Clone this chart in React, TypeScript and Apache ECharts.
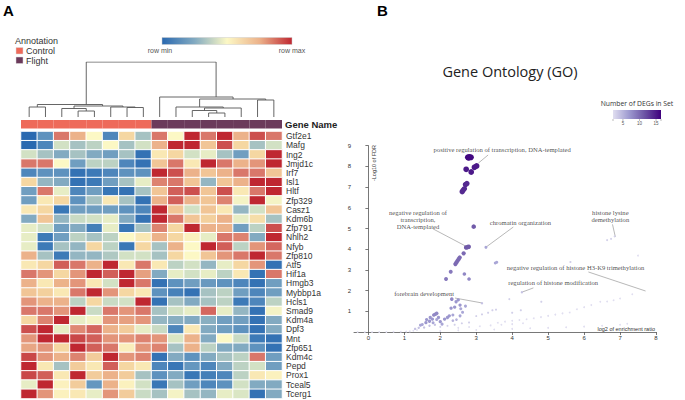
import React, { useEffect, useRef } from 'react';
import * as echarts from 'echarts';

// ---------- Panel A data ----------
const sampleColumns = ['C1', 'C2', 'C3', 'C4', 'C5', 'C6', 'C7', 'C8', 'F1', 'F2', 'F3', 'F4', 'F5', 'F6', 'F7', 'F8'];
const sampleGroups = [0, 0, 0, 0, 0, 0, 0, 0, 1, 1, 1, 1, 1, 1, 1, 1];
const groupNames = ['Control', 'Flight'];
const groupColors = ['#ee6a5a', '#6b3a5b'];

const genes = [
  'Gtf2e1', 'Mafg', 'Ing2', 'Jmjd1c', 'Irf7', 'Isl1', 'Hltf', 'Zfp329', 'Casz1', 'Kdm6b',
  'Zfp791', 'Nhlh2', 'Nfyb', 'Zfp810', 'Atf5', 'Hif1a', 'Hmgb3', 'Mybbp1a', 'Hcls1', 'Smad9',
  'Kdm4a', 'Dpf3', 'Mnt', 'Zfp651', 'Kdm4c', 'Pepd', 'Prox1', 'Tceal5', 'Tcerg1',
];

// relative expression, 0 = row min ... 10 = row max
const heatValues = [
  [0, 2, 9, 8, 6, 1.5, 7, 4, 9, 6, 10, 9, 10, 8, 9.5, 9],
  [0, 1.5, 5, 4, 4.5, 6, 4, 5, 8, 10, 10, 7.5, 9.5, 7, 4, 5],
  [5, 4, 3, 4, 3, 2.5, 4, 0.5, 6.5, 7, 5, 5.5, 4, 2.5, 7, 10],
  [9, 9, 6, 2.5, 4.5, 4.5, 1.5, 0.5, 7.5, 9, 6.5, 10, 9, 8, 8.5, 10],
  [1.5, 2, 2, 0.5, 1, 1.5, 2, 2, 10, 9.5, 8, 7.5, 8, 9, 9, 7.5],
  [7, 3.5, 3, 0.5, 1, 2.5, 4, 5.5, 8.8, 9, 7.5, 3.5, 7.5, 8, 10, 10],
  [2.5, 9, 5.5, 1.5, 2.5, 0.8, 0.5, 4, 7.5, 9.3, 9.5, 7.5, 9.5, 6.5, 9, 10],
  [2.5, 6.5, 7, 2, 4, 6.5, 4, 0.5, 8, 9.3, 8, 7.5, 8.8, 5.8, 10, 5.8],
  [6.5, 7, 0.8, 2.5, 2.5, 2.5, 2, 1.5, 10, 7.5, 5, 7.5, 6.5, 3.5, 5, 7.5],
  [3, 7.5, 3.5, 4.8, 5, 5.5, 3, 0.5, 10, 9, 7.5, 7.2, 8, 5.5, 6.8, 4],
  [5.5, 5, 2.5, 3, 1.2, 5.5, 0.8, 4, 8.8, 7, 10, 8, 8, 2.5, 4.5, 9.5],
  [5.5, 1, 2.5, 4.5, 4, 4.5, 6, 6.5, 8, 7, 6.2, 5.5, 9, 8.8, 3, 10],
  [5.5, 1, 4, 3.5, 7, 4.5, 0.8, 7, 4, 8, 6, 10, 9.3, 4.5, 8.5, 9.2],
  [8, 4, 1, 3.5, 3.5, 4.2, 5, 5, 4, 7, 6, 7.5, 8.5, 9, 10, 9],
  [6.5, 7, 9.3, 9, 8, 10, 6.5, 9, 6.5, 4.5, 5, 3.5, 5.5, 7, 8.5, 0.5],
  [9, 8.5, 7, 8.5, 10, 9.3, 10, 8.3, 3, 5.5, 5, 5.5, 4.5, 6.5, 0.5, 9],
  [8, 6.5, 8, 8.5, 6.5, 5, 10, 9, 0.5, 2, 2.5, 2.3, 2, 1.5, 0.5, 2.5],
  [7.5, 7.2, 6.5, 9, 10, 8.5, 7, 6.5, 2, 1.3, 0.5, 4, 4.5, 2.5, 1.5, 2.5],
  [8.5, 8, 8, 4.5, 7, 4.8, 5, 10, 0.5, 4, 3, 4, 4.5, 1, 1.5, 4.5],
  [9, 9, 8.5, 10, 4.8, 9, 8.5, 9, 4, 5, 5.5, 9.2, 5.5, 3.5, 0.5, 5.8],
  [7, 8.8, 10, 5.5, 5.8, 8.5, 8.3, 8.5, 3.5, 3.2, 3, 3.2, 2.5, 2.5, 0.5, 3],
  [9.5, 10, 5.5, 8.7, 9.2, 8, 7.3, 5.5, 4.8, 1.5, 6.5, 3, 2.5, 2, 0.5, 3],
  [8.5, 10, 10, 9.6, 9.3, 8.5, 8.5, 8.8, 8.5, 5.2, 8, 3, 6, 4.8, 1, 0.5],
  [8.2, 8.5, 7, 10, 9.3, 9, 6.3, 8.5, 8.8, 4, 8, 4.5, 3, 3, 2, 0.5],
  [9.6, 8.5, 8, 8.8, 7.3, 10, 8.5, 8.8, 0.5, 3, 2, 3, 4, 4.5, 9, 2.5],
  [10, 6.5, 4, 7.3, 6.5, 9.3, 7, 6.5, 1.5, 0.8, 2.2, 1.5, 3, 4.5, 5, 2.5],
  [9.6, 9.3, 6.5, 10, 7.3, 8, 7.3, 4, 2, 3, 0.8, 1.2, 1.5, 4.5, 6.5, 6.2],
  [5.5, 10, 6.2, 7.3, 2.2, 8, 6.2, 5, 0.8, 4, 2.5, 1.5, 2, 5, 3, 3],
  [10, 8.5, 6.2, 6.5, 5.5, 8.5, 7.3, 4.8, 4, 5.8, 4, 3.5, 5.5, 5.2, 0.5, 3],
];

const heatColors = ['#2a69b0', '#3d7ab7', '#5e92be', '#82aac1', '#a6c2c2', '#d2e1c4', '#fcf8c5', '#f5d7a2', '#ecb28a', '#d9776a', '#bf2731'];
const heatLegendStops = [0, 3, 6, 8, 10];

// dendrogram links: [xLeft, hLeft, xRight, hRight, hJoin] (x in column index units)
const dendroLinks = [
  [0, 0, 1, 0, 10],
  [3, 0, 4, 0, 6],
  [2, 0, 3.5, 6, 8.5],
  [6, 0, 7, 0, 9.5],
  [5, 0, 6.5, 9.5, 10],
  [2.75, 8.5, 5.75, 10, 11],
  [0.5, 10, 4.5, 11, 12.5],
  [11, 0, 12, 0, 4],
  [10, 0, 11.5, 4, 6.5],
  [10.75, 6.5, 13, 0, 9],
  [9, 0, 11.9, 9, 10],
  [14, 0, 15, 0, 17],
  [10.45, 10, 14.5, 17, 18],
  [8, 0, 12.5, 18, 20],
  [3.5, 12.5, 11.46, 20, 55],
];

// ---------- Panel B data ----------
// [log2 enrichment ratio, -log10 FDR, number of DEGs]
const goPoints = [
  [2.77, 8.44, 16], [2.81, 8.45, 16], [2.85, 8.44, 16], [2.79, 8.42, 16],
  [2.72, 7.86, 15], [2.86, 7.73, 15], [2.95, 7.96, 15], [3.01, 8.02, 15],
  [2.7, 7.12, 14], [2.74, 7.17, 14], [2.61, 6.78, 14], [2.64, 6.86, 14], [2.67, 6.92, 14],
  [2.93, 5.09, 11], [2.72, 4.08, 11], [2.76, 4.1, 11], [2.79, 4.12, 11], [2.65, 3.8, 10],
  [2.42, 3.28, 10], [2.45, 3.36, 10], [2.48, 3.44, 10], [2.51, 3.52, 10], [2.54, 3.6, 10],
  [2.29, 2.91, 9], [2.16, 2.56, 9], [2.67, 2.8, 8], [2.8, 2.56, 8],
  [3.27, 4.09, 6], [3.53, 3.33, 6], [3.57, 3.37, 6], [5.62, 3.38, 3], [7.5, 3.69, 2],
  [6.64, 4.44, 3], [6.75, 4.5, 3], [6.85, 4.62, 3],
  [4.27, 1.92, 4], [3.92, 1.59, 3], [4.81, 1.46, 3], [3.16, 1.39, 4],
  [2.32, 1.59, 8], [2.44, 1.46, 7], [2.5, 1.55, 7], [2.55, 1.3, 7], [2.4, 1.2, 7], [2.3, 1.15, 7],
  [2.57, 1.12, 6], [2.62, 0.95, 6], [2.55, 0.78, 6], [2.35, 0.82, 6], [2.25, 0.78, 7], [2.2, 0.7, 7],
  [2.12, 0.62, 7], [2.0, 0.5, 7], [2.05, 0.38, 6], [2.7, 1.25, 6],
  [1.45, 0.33, 6], [1.5, 0.36, 6], [1.6, 0.45, 7], [1.62, 0.6, 7], [1.7, 0.52, 7], [1.72, 0.7, 7],
  [1.78, 0.62, 7], [1.82, 0.82, 8], [1.86, 0.86, 8], [1.9, 0.9, 8], [1.8, 0.45, 6], [1.9, 0.6, 6],
  [1.95, 0.7, 7], [2.35, 0.55, 5], [2.45, 0.6, 5],
  [1.3, 0.15, 4], [1.4, 0.2, 4], [1.55, 0.22, 4], [1.7, 0.3, 4], [1.85, 0.35, 4], [2.0, 0.25, 3],
  [2.2, 0.3, 3], [2.4, 0.35, 3], [2.6, 0.42, 3], [2.8, 0.46, 3],
  [3.0, 0.77, 3], [3.16, 0.85, 3], [3.33, 0.93, 3], [3.45, 1.05, 3], [3.55, 1.08, 3], [4.0, 0.93, 3], [4.24, 1.05, 3],
  [3.6, 0.45, 2], [3.8, 0.5, 2], [4.0, 0.54, 2], [4.2, 0.58, 2], [4.4, 0.62, 2], [4.6, 0.66, 2],
  [4.8, 0.72, 2], [5.0, 0.78, 2], [5.2, 0.84, 2], [5.4, 0.9, 2], [5.6, 0.94, 2],
  [5.8, 1.1, 2], [6.0, 1.2, 2], [6.2, 1.3, 2], [6.45, 1.46, 2], [6.64, 1.47, 2], [6.82, 1.53, 2], [7.0, 1.62, 2], [7.34, 1.82, 2],
  [2.5, 0.2, 2], [2.8, 0.24, 2], [3.1, 0.28, 2], [3.4, 0.32, 2], [3.7, 0.35, 2], [4.0, 0.38, 2], [4.3, 0.42, 2],
  [2.0, 0.05, 1], [2.5, 0.08, 1], [3.0, 0.1, 1], [3.5, 0.12, 1], [4.0, 0.15, 1], [4.5, 0.18, 1], [5.0, 0.2, 1],
  [5.5, 0.23, 1], [6.0, 0.26, 1], [6.5, 0.3, 1], [7.0, 0.35, 1], [7.2, 0.4, 1],
  [-0.3, 0, 1], [-0.1, 0, 1], [0.1, 0, 1], [0.3, 0, 1], [0.5, 0, 1], [0.7, 0.01, 1], [0.9, 0.01, 1],
  [1.05, 0.02, 1], [1.15, 0.03, 1], [1.25, 0.06, 1], [1.35, 0.1, 1],
];

// [x, y, text] annotation label centres
const goLabels: [number, number, string][] = [
  [3.72, 8.84, 'positive regulation of transcription, DNA-templated'],
  [1.38, 5.44, 'negative regulation of\ntranscription,\nDNA-templated'],
  [4.23, 5.31, 'chromatin organization'],
  [6.73, 5.62, 'histone lysine\ndemethylation'],
  [5.76, 3.14, 'negative regulation of histone H3-K9 trimethylation'],
  [5.14, 2.37, 'regulation of histone modification'],
  [1.55, 1.88, 'forebrain development'],
];

// leader lines [x1, y1, x2, y2]
const goLeaders = [
  [3.33, 8.55, 3.06, 8.16],
  [1.8, 4.98, 2.75, 4.11],
  [4.03, 5.07, 3.28, 4.11],
  [6.79, 5.2, 6.87, 4.59],
  [6.12, 2.9, 7.71, 1.98],
  [4.59, 2.13, 4.28, 1.93],
  [2.41, 1.64, 3.17, 1.4],
];

const xTickValues = [0, 1, 2, 3, 4, 5, 6, 7, 8];
const degRange = [2, 16.5];
const degTicks = [5, 10, 15];
const degColors = ['#e0def0', '#9e9ad0', '#6a51a3', '#3f007d'];

export default function App() {
  const ref = useRef<HTMLDivElement>(null);

  useEffect(() => {
    const chart = echarts.init(ref.current!, null, { renderer: 'svg' });

    const heatData: number[][] = [];
    heatValues.forEach((row, r) => row.forEach((v, c) => heatData.push([c, r, v])));

    const dendroData = dendroLinks.map(([xl, hl, xr, hr, hj]) => ({
      coords: [[xl, hl], [xl, hj], [xr, hj], [xr, hr]],
    }));

    const legendGradient = {
      type: 'linear', x: 0, y: 0, x2: 1, y2: 0,
      colorStops: heatLegendStops.map((idx, i) => ({ offset: i / (heatLegendStops.length - 1), color: heatColors[idx] })),
    };
    const degGradient = {
      type: 'linear', x: 0, y: 0, x2: 1, y2: 0,
      colorStops: degColors.map((c, i) => ({ offset: i / (degColors.length - 1), color: c })),
    };

    const degBar = { x: 613, y: 110, w: 48, h: 9 };
    const degX = (v: number) => degBar.x + ((v - degRange[0]) / (degRange[1] - degRange[0])) * degBar.w;

    const sans = 'Liberation Sans';
    const graphic: any[] = [
      { type: 'text', x: 3, y: 3, style: { text: 'A', font: `bold 15px "${sans}"`, fill: '#000' } },
      { type: 'text', x: 377, y: 3, style: { text: 'B', font: `bold 15px "${sans}"`, fill: '#000' } },
      { type: 'text', x: 15, y: 41, style: { text: 'Annotation', fontSize: 9, fontFamily: sans, fill: '#333', verticalAlign: 'middle' } },
      ...groupNames.flatMap((g, i) => [
        { type: 'rect', shape: { x: 16, y: 47.5 + i * 9.5, width: 7, height: 6.5 }, style: { fill: groupColors[i], stroke: '#ddd', lineWidth: 0.5 } },
        { type: 'text', x: 26, y: 51 + i * 9.5, style: { text: g, fontSize: 9, fontFamily: sans, fill: '#333', verticalAlign: 'middle' } },
      ]),
      { type: 'rect', shape: { x: 162, y: 37.5, width: 130, height: 7 }, style: { fill: legendGradient, stroke: '#ccc', lineWidth: 0.5 } },
      { type: 'text', x: 160, y: 50.5, style: { text: 'row min', fontSize: 7, fontFamily: sans, fill: '#555', align: 'center', verticalAlign: 'middle' } },
      { type: 'text', x: 292, y: 50.5, style: { text: 'row max', fontSize: 7, fontFamily: sans, fill: '#555', align: 'center', verticalAlign: 'middle' } },
      { type: 'text', x: 285, y: 124.5, style: { text: 'Gene Name', font: `bold 9.5px "${sans}"`, fill: '#222', verticalAlign: 'middle' } },
      { type: 'text', x: 510, y: 71, style: { text: 'Gene Ontology (GO)', fontSize: 14.5, fontFamily: 'Open Sans', fill: '#222', align: 'center', verticalAlign: 'middle' } },
      { type: 'text', x: 637, y: 103.5, style: { text: 'Number of DEGs in Set', fontSize: 6.8, fontFamily: 'Open Sans', fill: '#333', align: 'center', verticalAlign: 'middle' } },
      { type: 'rect', shape: { x: degBar.x, y: degBar.y, width: degBar.w, height: degBar.h }, style: { fill: degGradient } },
      ...[degRange[0], ...degTicks, degRange[1]].map((v) => ({
        type: 'line', shape: { x1: degX(v), y1: degBar.y + degBar.h, x2: degX(v), y2: degBar.y + degBar.h + 2 }, style: { stroke: '#777', lineWidth: 0.5 },
      })),
      ...degTicks.map((v) => ({
        type: 'text', x: degX(v), y: degBar.y + degBar.h + 4.5, style: { text: String(v), fontSize: 4.5, fontFamily: sans, fill: '#555', align: 'center', verticalAlign: 'middle' },
      })),
      { type: 'text', x: 373.5, y: 163, rotation: Math.PI / 2, style: { text: '-Log10 of FDR', fontSize: 5.5, fontFamily: sans, fill: '#333', align: 'center', verticalAlign: 'middle' } },
      { type: 'text', x: 655, y: 328.5, style: { text: 'log2 of enrichment ratio', fontSize: 5.5, fontFamily: sans, fill: '#333', align: 'right', verticalAlign: 'middle' } },
    ];

    const hidden = { show: false };
    const axisColor = '#555';

    const option: any = {
      animation: false,
      textStyle: { fontFamily: sans },
      grid: [
        { left: 21, top: 131.5, width: 261, height: 267 },
        { left: 21, top: 120, width: 261, height: 8.5 },
        { left: 21, top: 62, width: 261, height: 55 },
        { left: 354, top: 145.7, width: 302, height: 186.3 },
      ],
      xAxis: [
        { type: 'category', gridIndex: 0, data: sampleColumns, axisLine: hidden, axisTick: hidden, axisLabel: hidden, splitLine: hidden },
        { type: 'category', gridIndex: 1, data: sampleColumns, axisLine: hidden, axisTick: hidden, axisLabel: hidden, splitLine: hidden },
        { type: 'value', gridIndex: 2, min: -0.5, max: 15.5, show: false },
        {
          type: 'value', gridIndex: 3, min: -0.4, max: 8,
          axisLine: { show: true, onZero: false, lineStyle: { color: axisColor, width: 0.8 } },
          axisTick: { show: true, length: 3, customValues: xTickValues, lineStyle: { color: axisColor, width: 0.8 } },
          axisLabel: { customValues: xTickValues, fontSize: 6, color: '#333', margin: 3 },
          splitLine: hidden,
        },
      ],
      yAxis: [
        {
          type: 'category', gridIndex: 0, data: genes, inverse: true, position: 'right',
          axisLine: hidden, axisTick: hidden, splitLine: hidden,
          axisLabel: { interval: 0, fontSize: 8.5, color: '#333', margin: 4 },
        },
        { type: 'value', gridIndex: 1, min: 0, max: 1, show: false },
        { type: 'value', gridIndex: 2, min: 0, max: 55, show: false },
        {
          type: 'value', gridIndex: 3, min: 0, max: 9, interval: 1,
          axisLine: { show: true, onZero: true, lineStyle: { color: axisColor, width: 0.8 } },
          axisTick: { show: true, length: 3, lineStyle: { color: axisColor, width: 0.8 } },
          axisLabel: { fontSize: 6, color: '#333', margin: 3, showMinLabel: false },
          splitLine: hidden,
        },
      ],
      visualMap: [
        { type: 'continuous', show: false, seriesIndex: 0, dimension: 2, min: 0, max: 10, inRange: { color: heatColors } },
        {
          type: 'continuous', show: false, seriesIndex: 3, dimension: 2, min: degRange[0], max: degRange[1],
          inRange: { color: degColors, symbolSize: [1.8, 6.2] },
        },
      ],
      series: [
        {
          type: 'heatmap', xAxisIndex: 0, yAxisIndex: 0, data: heatData, silent: true,
          itemStyle: { borderColor: '#ffffff', borderWidth: 1 },
        },
        {
          type: 'bar', xAxisIndex: 1, yAxisIndex: 1, silent: true, barCategoryGap: '0%', barWidth: '100%',
          data: sampleGroups.map((g) => ({ value: 1, itemStyle: { color: groupColors[g] } })),
        },
        {
          type: 'lines', coordinateSystem: 'cartesian2d', xAxisIndex: 2, yAxisIndex: 2, polyline: true, silent: true,
          lineStyle: { color: '#555', width: 0.9, opacity: 1 },
          data: dendroData,
        },
        {
          type: 'scatter', xAxisIndex: 3, yAxisIndex: 3, silent: true,
          data: goPoints,
          itemStyle: { opacity: 1 },
        },
        {
          type: 'lines', coordinateSystem: 'cartesian2d', xAxisIndex: 3, yAxisIndex: 3, silent: true,
          lineStyle: { color: '#9a9a9a', width: 0.7, opacity: 1 },
          data: goLeaders.map(([x1, y1, x2, y2]) => ({ coords: [[x1, y1], [x2, y2]] })),
        },
        {
          type: 'scatter', xAxisIndex: 3, yAxisIndex: 3, silent: true, symbolSize: 0,
          data: goLabels.map(([x, y, t]) => ({ name: t, value: [x, y] })),
          label: {
            show: true, position: 'inside', formatter: '{b}',
            fontFamily: 'Liberation Serif', fontSize: 6.6, lineHeight: 6.8, color: '#222', align: 'center',
          },
        },
      ],
      graphic,
    };

    chart.setOption(option);
    return () => chart.dispose();
  }, []);

  return <div ref={ref} style={{ position: 'absolute', left: 0, top: 0, width: 685, height: 400 }} />;
}
